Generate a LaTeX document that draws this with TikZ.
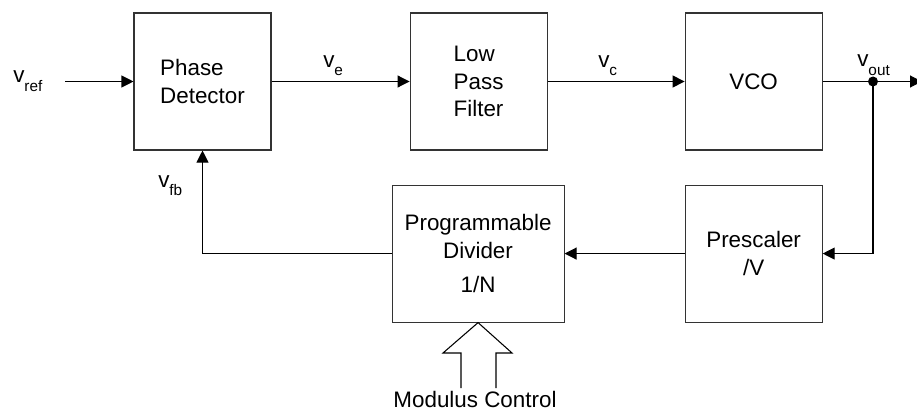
\documentclass[tikz,border=0pt]{standalone}
\usepackage{fontspec}
\setmainfont{Liberation Sans}
\usetikzlibrary{arrows.meta,positioning}
\newcommand{\sigv}[1]{v\raisebox{-6pt}{\fontsize{11.5}{11.5}\selectfont #1}}

\begin{document}
\begin{tikzpicture}[x=0.75pt, y=-0.75pt, every node/.style={font=\fontsize{16.8}{20.5}\selectfont},
    block/.style={draw=black!80, line width=0.8pt, minimum width=102.75pt, minimum height=102.75pt, inner sep=0pt, align=center},
    sigline/.style={line width=0.8pt, -{Triangle[length=9pt,width=9pt]}},
    siglabel/.style={inner sep=0pt, anchor=base west}]
    \useasboundingbox (0,0) rectangle (917,410);

    % forward path
    \node[block, align=left] (pd) at (202.5,81.5) {Phase\\Detector};
    \node[block, align=left, right=103.5pt of pd] (lpf) {Low\\Pass\\Filter};
    \node[block, right=102.75pt of lpf] (vco) {VCO};
    \node[circle, fill, inner sep=0pt, minimum size=7.5pt] (tap) at (873,81.5) {};
    \coordinate (in) at (65,81.5);
    \coordinate (out) at (922,81.5);

    % feedback path
    \node[block, below=25.5pt of vco] (pre) {Prescaler\\/V};
    \node[block, minimum width=129pt, left=90pt of pre] (div) {Programmable\\Divider\\[5pt]1/N};

    % labels
    \node[siglabel] (vref) at (13,83) {\sigv{ref}};
    \node[siglabel] (ve) at (323,68) {\sigv{e}};
    \node[siglabel] (vc) at (598,68) {\sigv{c}};
    \node[siglabel] (vout) at (857,67) {\sigv{out}};
    \node[siglabel] (vfb) at (158,187) {\sigv{fb}};
    \node[inner sep=0pt, anchor=base] (mod) at (475,407) {Modulus Control};

    \draw[sigline] (in) -- (pd);
    \draw[sigline] (pd) -- (lpf);
    \draw[sigline] (lpf) -- (vco);
    \draw[line width=0.8pt] (vco) -- (tap);
    \draw[sigline] (tap) -- (out);
    \draw[sigline] (tap.center) |- (pre.east);
    \draw[sigline] (pre) -- (div);
    \draw[sigline] (div.west) -| (pd.south);

    % hollow control arrow
    \draw[line width=0.8pt] (461,388) -- (461,353) -- (443,353) -- (div.south) -- (512,353) -- (496,353) -- (496,388);
\end{tikzpicture}
\end{document}
